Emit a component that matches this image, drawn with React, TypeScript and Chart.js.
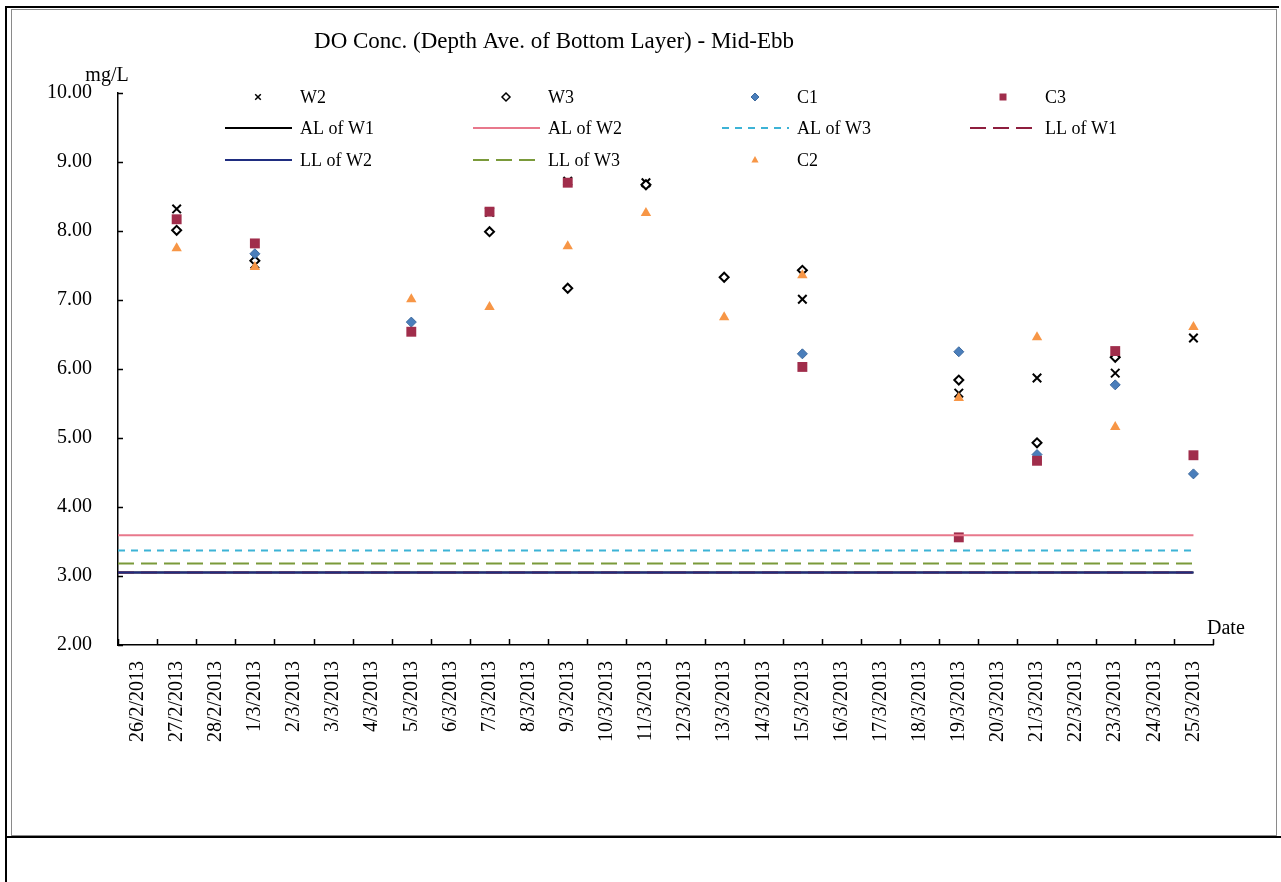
import React, { useEffect, useRef } from 'react';
import { Chart, registerables } from 'chart.js';

Chart.register(...registerables);

const TITLE = 'DO Conc. (Depth Ave. of Bottom Layer) - Mid-Ebb';
const Y_TITLE = 'mg/L';
const X_TITLE = 'Date';

const categories = [
  '26/2/2013', '27/2/2013', '28/2/2013', '1/3/2013', '2/3/2013', '3/3/2013', '4/3/2013',
  '5/3/2013', '6/3/2013', '7/3/2013', '8/3/2013', '9/3/2013', '10/3/2013', '11/3/2013',
  '12/3/2013', '13/3/2013', '14/3/2013', '15/3/2013', '16/3/2013', '17/3/2013', '18/3/2013',
  '19/3/2013', '20/3/2013', '21/3/2013', '22/3/2013', '23/3/2013', '24/3/2013', '25/3/2013',
];

const N = null;
//                26  27    28  1/3   2  3  4  5/3   6  7/3   8  9/3   10 11/3  12 13/3  14 15/3  16 17 18 19/3  20 21/3  22 23/3  24 25/3
const W2 = [N, 8.32, N, 7.52, N, N, N, N, N, 8.27, N, 8.72, N, 8.7, N, N, N, 7.01, N, N, N, 5.65, N, 5.87, N, 5.94, N, 6.45];
const W3 = [N, 8.01, N, 7.57, N, N, N, N, N, 7.99, N, 7.17, N, 8.67, N, 7.33, N, 7.43, N, N, N, 5.84, N, 4.93, N, 6.17, N, N];
const C1 = [N, N, N, 7.67, N, N, N, 6.68, N, N, N, N, N, N, N, N, N, 6.22, N, N, N, 6.25, N, 4.76, N, 5.77, N, 4.48];
const C3 = [N, 8.17, N, 7.82, N, N, N, 6.54, N, 8.28, N, 8.7, N, N, N, N, N, 6.03, N, N, N, 3.56, N, 4.67, N, 6.26, N, 4.75];
const C2 = [N, 7.75, N, 7.48, N, N, N, 7.01, N, 6.9, N, 7.78, N, 8.26, N, 6.75, N, 7.36, N, N, N, 5.58, N, 6.46, N, 5.16, N, 6.61];

const AL_W1 = 3.05;
const AL_W2 = 3.59;
const AL_W3 = 3.37;
const LL_W1 = 3.05;
const LL_W2 = 3.05;
const LL_W3 = 3.18;

const yTicks = { min: 2, max: 10, step: 1 };

const SERIF = '"Liberation Serif", "Times New Roman", serif';

function levelLine(v: number) {
  return [
    { x: -0.5, y: v },
    { x: categories.length - 1, y: v },
  ];
}

function drawMarker(ctx: CanvasRenderingContext2D, ds: any, x: number, y: number, r: number) {
  const style = ds.pointStyle;
  ctx.save();
  ctx.fillStyle = ds.pointBackgroundColor;
  ctx.strokeStyle = ds.pointBorderColor;
  ctx.lineWidth = Math.min(ds.pointBorderWidth, 1.5);
  ctx.beginPath();
  if (style === 'crossRot') {
    ctx.moveTo(x - r * 0.7, y - r * 0.7);
    ctx.lineTo(x + r * 0.7, y + r * 0.7);
    ctx.moveTo(x + r * 0.7, y - r * 0.7);
    ctx.lineTo(x - r * 0.7, y + r * 0.7);
    ctx.stroke();
  } else if (style === 'rectRot') {
    ctx.moveTo(x, y - r);
    ctx.lineTo(x + r, y);
    ctx.lineTo(x, y + r);
    ctx.lineTo(x - r, y);
    ctx.closePath();
    ctx.fill();
    if (ds.pointBorderWidth) ctx.stroke();
  } else if (style === 'rect') {
    const s = r;
    ctx.rect(x - s, y - s, 2 * s, 2 * s);
    ctx.fill();
  } else if (style === 'triangle') {
    ctx.moveTo(x, y - r);
    ctx.lineTo(x + r * 0.9, y + r * 0.6);
    ctx.lineTo(x - r * 0.9, y + r * 0.6);
    ctx.closePath();
    ctx.fill();
  }
  ctx.restore();
}

const decorPlugin = {
  id: 'decor',
  afterDraw(chart: any) {
    const { ctx, chartArea: a, scales } = chart;
    ctx.save();
    // title
    ctx.fillStyle = '#000';
    ctx.textBaseline = 'middle';
    ctx.textAlign = 'center';
    ctx.font = `23px ${SERIF}`;
    ctx.fillText(TITLE, a.left + 436, a.top - 51);
    // axis titles
    ctx.font = `20px ${SERIF}`;
    ctx.fillText(Y_TITLE, a.left - 11, a.top - 17);
    ctx.textAlign = 'left';
    ctx.fillText(X_TITLE, a.right - 6, a.bottom - 16);

    // tick marks
    ctx.strokeStyle = '#000';
    ctx.lineWidth = 1.5;
    const x2 = scales.x2;
    ctx.beginPath();
    for (let i = 0; i <= categories.length; i++) {
      const px = Math.round(x2.getPixelForValue(i - 0.5)) + 0.5;
      ctx.moveTo(px, a.bottom);
      ctx.lineTo(px, a.bottom - 6);
    }
    const ys = scales.y;
    for (const t of ys.ticks) {
      const py = Math.round(ys.getPixelForValue(t.value)) + 0.5;
      ctx.moveTo(a.left, py);
      ctx.lineTo(a.left + 5, py);
    }
    ctx.stroke();

    // legend (4-column grid inside the plot area)
    const colX = [a.left + 182, a.left + 430, a.left + 679, a.left + 927];
    const rowY = [a.top + 4, a.top + 35, a.top + 67];
    ctx.font = `18px ${SERIF}`;
    ctx.textAlign = 'left';
    ctx.textBaseline = 'middle';
    chart.data.datasets.forEach((ds: any, i: number) => {
      const tx = colX[i % 4];
      const ty = rowY[Math.floor(i / 4)];
      if (ds.isLevel) {
        ctx.save();
        ctx.strokeStyle = ds.borderColor;
        ctx.lineWidth = ds.borderWidth;
        ctx.setLineDash(ds.borderDash || []);
        ctx.beginPath();
        ctx.moveTo(tx - 75, ty);
        ctx.lineTo(tx - 8, ty);
        ctx.stroke();
        ctx.restore();
      } else {
        drawMarker(ctx, ds, tx - 42, ty, ds.pointStyle === 'rect' ? 3.5 : 4);
      }
      ctx.fillStyle = '#000';
      ctx.fillText(ds.label, tx, ty + 1);
    });
    ctx.restore();
  },
};

function pointSet(label: string, data: (number | null)[], style: string, bg: string, border: string, bw: number, r: number) {
  return {
    label,
    data,
    xAxisID: 'x',
    showLine: false,
    pointStyle: style,
    pointRadius: r,
    pointHoverRadius: r,
    pointBackgroundColor: bg,
    pointBorderColor: border,
    pointBorderWidth: bw,
    backgroundColor: bg,
    borderColor: border,
    isLevel: false,
  };
}

function lineSet(label: string, v: number, color: string, dash: number[] | undefined) {
  return {
    label,
    data: levelLine(v),
    xAxisID: 'x2',
    showLine: true,
    borderColor: color,
    backgroundColor: color,
    borderWidth: 2,
    borderDash: dash,
    pointRadius: 0,
    pointHoverRadius: 0,
    fill: false,
    isLevel: true,
  };
}

export default function App() {
  const ref = useRef<HTMLCanvasElement | null>(null);

  useEffect(() => {
    if (!ref.current) return;
    const datasets: any[] = [
      pointSet('W2', W2, 'crossRot', '#000000', '#000000', 2, 6),
      pointSet('W3', W3, 'rectRot', '#ffffff', '#000000', 2, 4.5),
      pointSet('C1', C1, 'rectRot', '#4A7EBB', '#3D6A9E', 1, 5),
      pointSet('C3', C3, 'rect', '#A02D4B', '#A02D4B', 0, 7),
      lineSet('AL of W1', AL_W1, '#000000', undefined),
      lineSet('AL of W2', AL_W2, '#E8788C', undefined),
      lineSet('AL of W3', AL_W3, '#3DB3D6', [7, 6]),
      lineSet('LL of W1', LL_W1, '#8E1E3E', [16, 7]),
      lineSet('LL of W2', LL_W2, '#1F2D80', undefined),
      lineSet('LL of W3', LL_W3, '#7A9A3A', [16, 7]),
      pointSet('C2', C2, 'triangle', '#F79646', '#F79646', 0, 6),
    ];
    datasets.forEach((d, i) => (d.order = -i));

    const chart = new Chart(ref.current, {
      type: 'line',
      data: { labels: categories, datasets },
      options: {
        responsive: false,
        animation: false,
        events: [],
        layout: { padding: { left: 10, right: 62, top: 83, bottom: 39 } },
        plugins: {
          legend: { display: false },
          title: { display: false },
          tooltip: { enabled: false },
        },
        scales: {
          x: {
            type: 'category',
            offset: true,
            grid: { display: false, offset: true },
            border: { display: true, color: '#000', width: 1.5 },
            ticks: {
              color: '#000',
              font: { family: SERIF, size: 20 },
              maxRotation: 90,
              minRotation: 90,
              autoSkip: false,
              padding: 8,
            },
            afterFit: (s: any) => {
              s.height = 150;
            },
          },
          x2: {
            type: 'linear',
            display: false,
            min: -0.5,
            max: categories.length - 0.5,
          },
          y: {
            min: yTicks.min,
            max: yTicks.max,
            grid: { display: false },
            border: { display: true, color: '#000', width: 1.5 },
            ticks: {
              stepSize: yTicks.step,
              color: '#000',
              font: { family: SERIF, size: 20 },
              padding: 18,
              callback: (v: any) => Number(v).toFixed(2),
            },
            afterFit: (s: any) => {
              s.width = 96;
            },
          },
        },
      } as any,
      plugins: [decorPlugin],
    });
    return () => chart.destroy();
  }, []);

  return (
    <div style={{ position: 'absolute', left: 0, top: 0, width: 1281, height: 882, background: '#fff' }}>
      <div style={{ position: 'absolute', left: 5, top: 6, width: 1274, height: 2, background: '#000' }} />
      <div style={{ position: 'absolute', left: 5, top: 6, width: 2, height: 876, background: '#000' }} />
      <div style={{ position: 'absolute', left: 5, top: 836, width: 1276, height: 2, background: '#000' }} />
      <div
        style={{
          position: 'absolute',
          left: 11,
          top: 9,
          width: 1264,
          height: 825,
          border: '1px solid #8a8a8a',
          background: '#fff',
        }}
      >
        <canvas ref={ref} width={1263} height={824} style={{ display: 'block', width: 1263, height: 824 }} />
      </div>
    </div>
  );
}
